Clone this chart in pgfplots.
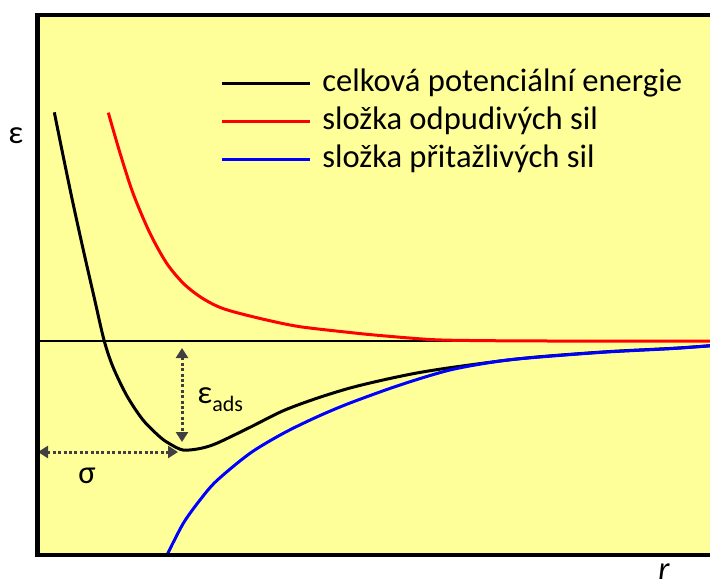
\documentclass[border=0pt]{standalone}
\usepackage{pgfplots}
\pgfplotsset{compat=1.18}
\usepackage{fontspec}
\setmainfont{Carlito}
\usetikzlibrary{arrows.meta}

\definecolor{bgyellow}{RGB}{255,255,153}
\definecolor{annot}{RGB}{64,64,64}

\begin{document}
\begin{tikzpicture}
\begin{axis}[
  at={(18.5pt,15pt)}, anchor=south west,
  scale only axis, width=336.5pt, height=270pt,
  xmin=0, xmax=6.73, ymin=-2.14, ymax=3.26,
  axis line style={draw=none},
  xtick=\empty, ytick=\empty,
  axis background/.style={fill=bgyellow},
  clip=true,
  legend style={
    at={(axis cs:1.83,2.743)}, anchor=north west,
    draw=none, fill=none, inner sep=0pt,
    font=\fontsize{16.3}{19}\selectfont,
    row sep=3pt, column sep=5.5pt,
    nodes={inner sep=0pt, text height=12pt, text depth=4pt},
  },
  legend cell align=left,
  legend image code/.code={\draw[#1] (0pt,0pt) -- (44pt,0pt);},
]
% zero level of the potential energy
\addplot[black, line width=1pt, forget plot] coordinates {(0,0) (6.73,0)};

% total potential energy (Lennard-Jones type well)
\addplot[black, line width=1.5pt, smooth, tension=0.5] coordinates {
  (0.173,2.287) (0.263,1.843) (0.353,1.41) (0.463,0.91) (0.57,0.443)
  (0.67,0.01) (0.76,-0.26) (0.90,-0.55) (1.06,-0.79) (1.23,-0.96)
  (1.33,-1.03) (1.46,-1.09) (1.63,-1.075) (1.797,-1.023) (2.13,-0.863)
  (2.463,-0.697) (2.797,-0.573) (3.13,-0.47) (3.46,-0.39) (3.797,-0.32)
  (4.13,-0.267) (4.63,-0.20) (5.03,-0.157) (5.70,-0.107) (6.36,-0.073)
  (6.73,-0.047)};
\addlegendentry{celková potenciální energie}

% repulsive part
\addplot[red, line width=1.5pt, smooth, tension=0.5] coordinates {
  (0.713,2.283) (0.83,1.88) (0.963,1.47) (1.13,1.077) (1.297,0.777)
  (1.463,0.577) (1.63,0.443) (1.797,0.35) (1.963,0.293) (2.297,0.21)
  (2.63,0.143) (3.13,0.085) (3.43,0.055) (3.93,0.015) (4.33,0.005)
  (5.13,0.0) (6.73,0.0)};
\addlegendentry{složka odpudivých sil}

% attractive part
\addplot[blue, line width=1.5pt, smooth, tension=0.5] coordinates {
  (1.30,-2.14) (1.463,-1.823) (1.63,-1.59) (1.797,-1.397) (2.13,-1.123)
  (2.463,-0.923) (2.797,-0.76) (3.13,-0.62) (3.63,-0.44) (4.13,-0.29)
  (4.63,-0.20) (5.03,-0.16) (5.70,-0.11) (6.36,-0.075) (6.73,-0.048)};
\addlegendentry{složka přitažlivých sil}

% well depth and position of the minimum
\draw[annot, line width=1.5pt, dash pattern=on 1.5pt off 1.2pt,
      {Triangle[width=6pt,length=5pt]}-{Triangle[width=6pt,length=5pt]}]
  (axis cs:1.45,-0.07) -- (axis cs:1.45,-1.01);
\draw[annot, line width=1.5pt, dash pattern=on 1.5pt off 1.2pt,
      {Triangle[width=6pt,length=5pt]}-{Triangle[width=6pt,length=5pt]}]
  (axis cs:0.01,-1.11) -- (axis cs:1.41,-1.11);
\end{axis}

% frame: left, top and bottom sides
\draw[line width=2.2pt, line join=miter]
  (356pt,285pt) -- (18.8pt,285pt) -- (18.8pt,15pt) -- (356pt,15pt);

% labels
\node[anchor=base west, inner sep=0pt] at (98.5pt,91pt)
  {\fontsize{16.3}{19}\selectfont ε\raisebox{-4pt}{\fontsize{11}{13}\selectfont ads}};
\node[anchor=base west, inner sep=0pt] at (39pt,51pt)
  {\fontsize{16.3}{19}\selectfont σ};
\node[anchor=base west, inner sep=0pt] at (4pt,221pt)
  {\fontsize{16.3}{19}\selectfont ε};
\node[anchor=base west, inner sep=0pt] at (329pt,3pt)
  {\fontsize{16.3}{19}\selectfont\itshape r};

\pgfresetboundingbox
\useasboundingbox (0pt,0pt) rectangle (355pt,292.5pt);
\end{tikzpicture}
\end{document}
